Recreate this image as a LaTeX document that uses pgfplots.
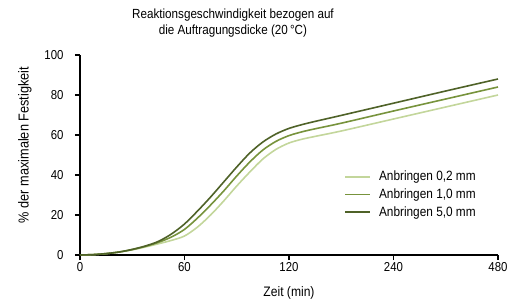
\documentclass[border=0pt]{standalone}
\usepackage{fontspec}
\setmainfont{Liberation Sans}[FakeStretch=0.88]
\usepackage{pgfplots}
\pgfplotsset{compat=1.18}
\usetikzlibrary{calc}
\definecolor{cL}{RGB}{195,214,155}
\definecolor{cM}{RGB}{119,147,60}
\definecolor{cD}{RGB}{79,98,40}
\newcommand{\fnt}{\fontsize{13}{15.5}\selectfont}
\begin{document}
\begin{tikzpicture}
\begin{axis}[
  scale only axis, width=418bp, height=200bp,
  xmin=0, xmax=4, ymin=0, ymax=100,
  xtick={0,1,2,3,4}, xticklabels={0,60,120,240,480},
  ytick={0,20,40,60,80,100},
  axis x line*=bottom, axis y line*=left,
  axis line style={line width=1.3bp, black, -},
  tick style={line width=1.1bp, black},
  tick align=outside, major tick length=5bp,
  tick label style={font=\fnt},
  yticklabel style={xshift=-8bp},
  xticklabel style={yshift=1bp},
  /pgf/number format/assume math mode=true,
  clip=false,
  title={Reaktionsgeschwindigkeit bezogen auf\\die Auftragungsdicke (20\,°C)},
  title style={at={(axis description cs:0.366,1.13)}, anchor=center, align=center, font=\fontsize{13.3}{15.5}\selectfont},
  xlabel={Zeit (min)},
  xlabel style={at={(axis description cs:0.5,-0.19)}, anchor=center, font=\fontsize{13.8}{15.5}\selectfont},
  ylabel={\% der maximalen Festigkeit},
  ylabel style={at={(axis description cs:-0.132,0.55)}, anchor=center, font=\fontsize{14.5}{16}\selectfont},
  legend style={at={(axis description cs:0.625,0.44)}, anchor=north west, draw=none, fill=none,
    font=\fontsize{13.5}{15.5}\selectfont, row sep=2.5bp},
  legend cell align=left,
  legend image code/.code={\draw[#1, line width=1.6bp] (0bp,0bp) -- (25bp,0bp); \path (31bp,0bp);},
  every axis plot/.append style={line width=1.6bp, smooth, no marks},
]
\addplot[cL] coordinates {
 (0,0) (0.125,0.2) (0.25,0.7) (0.375,1.5) (0.5,2.6) (0.625,4.0) (0.75,5.6) (0.875,7.3)
 (1.0,9.5) (1.125,14) (1.25,20) (1.375,27) (1.5,34.5) (1.625,41.5) (1.75,48) (1.875,52.8)
 (2.0,56) (2.125,57.9) (2.25,59.3) (2.5,62) (3,68) (3.5,74) (4,80)};
\addlegendentry{Anbringen 0,2 mm}
\addplot[cM] coordinates {
 (0,0) (0.125,0.2) (0.25,0.7) (0.375,1.5) (0.5,2.7) (0.625,4.3) (0.75,6.3) (0.875,9.0)
 (1.0,12.8) (1.125,18.5) (1.25,25) (1.375,32) (1.5,39.5) (1.625,46.5) (1.75,52.5) (1.875,56.8)
 (2.0,59.7) (2.125,61.6) (2.25,63.1) (2.5,65.9) (3,72) (3.5,78) (4,84)};
\addlegendentry{Anbringen 1,0 mm}
\addplot[cD] coordinates {
 (0,0) (0.125,0.2) (0.25,0.7) (0.375,1.5) (0.5,2.8) (0.625,4.5) (0.75,6.8) (0.875,10.5)
 (1.0,15.5) (1.125,22) (1.25,29) (1.375,36.5) (1.5,44) (1.625,51) (1.75,56.5) (1.875,60.5)
 (2.0,63.3) (2.125,65.2) (2.25,66.8) (2.5,69.8) (3,75.9) (3.5,82) (4,88)};
\addlegendentry{Anbringen 5,0 mm}
\coordinate (o) at (rel axis cs:0,0);
\end{axis}
\pgfresetboundingbox
\path ($(o)+(-80bp,-49bp)$) rectangle ($(o)+(438bp,255bp)$);
\end{tikzpicture}
\end{document}
